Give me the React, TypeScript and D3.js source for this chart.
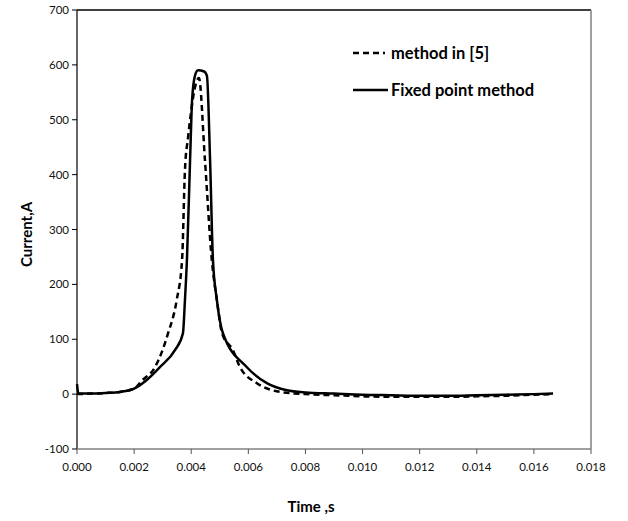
import React, { useEffect, useRef } from 'react';
import * as d3 from 'd3';

// time in s, current in A
const timeRef5 = [0, 0.0005, 0.001, 0.0015, 0.002, 0.00228, 0.00273, 0.00319, 0.00349, 0.00368, 0.00378, 0.00389, 0.00427, 0.00448, 0.00472, 0.0049, 0.00508, 0.00546, 0.00571, 0.0063, 0.00711, 0.008, 0.009, 0.01, 0.011, 0.012, 0.013, 0.014, 0.015, 0.016, 0.01667];
const currentRef5 = [0, 1, 2, 4, 10, 25, 49, 111, 171, 245, 408, 468, 576, 427, 245, 171, 111, 80, 49, 20, 4, 0, -2, -4, -5, -5, -5, -4, -3, -1, 0];

const timeFixed = [0, 0.00005, 0.0005, 0.001, 0.0015, 0.002, 0.0024, 0.0029, 0.00343, 0.00371, 0.00378, 0.00385, 0.00396, 0.00403, 0.00413, 0.00424, 0.00445, 0.00455, 0.00466, 0.00476, 0.0049, 0.00511, 0.00595, 0.00665, 0.00735, 0.008, 0.009, 0.01, 0.011, 0.012, 0.013, 0.014, 0.015, 0.016, 0.01667];
const currentFixed = [18, 1, 1, 2, 4, 10, 24, 49, 80, 111, 171, 245, 427, 535, 580, 590, 588, 580, 427, 245, 171, 111, 49, 20, 7, 3, 1, -1, -2, -3, -3, -2, -1, 0, 1];

const xTicks = [0, 0.002, 0.004, 0.006, 0.008, 0.01, 0.012, 0.014, 0.016, 0.018];
const yTicks = [-100, 0, 100, 200, 300, 400, 500, 600, 700];

const legendLabels = ['method in [5]', 'Fixed point method'];

export default function App() {
  const ref = useRef<SVGSVGElement>(null);
  const width = 628;
  const height = 521;
  const left = 77, right = 591, top = 10, bottom = 449;

  useEffect(() => {
    const svg = d3.select(ref.current);
    svg.selectAll('*').remove();

    const x = d3.scaleLinear().domain([0, 0.018]).range([left, right]);
    const y = d3.scaleLinear().domain([-100, 700]).range([bottom, top]);
    const font = 'Lato, "Open Sans", sans-serif';

    // frame
    svg.append('line').attr('x1', left).attr('x2', right).attr('y1', top).attr('y2', top)
      .attr('stroke', '#000').attr('stroke-width', 1.5);
    svg.append('line').attr('x1', right).attr('x2', right).attr('y1', top).attr('y2', bottom)
      .attr('stroke', '#808080').attr('stroke-width', 1.5);

    // y axis
    svg.append('line').attr('x1', left).attr('x2', left).attr('y1', top).attr('y2', bottom)
      .attr('stroke', '#000').attr('stroke-width', 1.2);
    yTicks.forEach(t => {
      svg.append('line').attr('x1', left - 5).attr('x2', left).attr('y1', y(t)).attr('y2', y(t))
        .attr('stroke', '#000').attr('stroke-width', 1);
      svg.append('text').attr('x', left - 8).attr('y', y(t)).attr('dy', '0.35em')
        .attr('text-anchor', 'end').attr('font-family', font).attr('font-size', 11.5)
        .attr('fill', '#111').text(t);
    });

    // x axis
    svg.append('line').attr('x1', left).attr('x2', right).attr('y1', bottom).attr('y2', bottom)
      .attr('stroke', '#808080').attr('stroke-width', 1.5);
    xTicks.forEach(t => {
      svg.append('line').attr('x1', x(t)).attr('x2', x(t)).attr('y1', bottom).attr('y2', bottom + 5)
        .attr('stroke', '#555').attr('stroke-width', 1);
      svg.append('text').attr('x', x(t)).attr('y', bottom + 22)
        .attr('text-anchor', 'middle').attr('font-family', font).attr('font-size', 11.5)
        .attr('fill', '#111').text(d3.format('.3f')(t));
    });

    svg.append('text').attr('transform', `translate(32,${(top + bottom) / 2 + 5}) rotate(-90)`)
      .attr('text-anchor', 'middle').attr('font-family', font).attr('font-size', 15)
      .attr('font-weight', 'bold').text('Current,A');
    svg.append('text').attr('x', 311).attr('y', 512)
      .attr('text-anchor', 'middle').attr('font-family', font).attr('font-size', 15)
      .attr('font-weight', 'bold').text('Time ,s');

    const line = d3.line<[number, number]>()
      .x(d => x(d[0])).y(d => y(d[1]))
      .curve(d3.curveMonotoneX);

    const ref5: [number, number][] = timeRef5.map((t, i) => [t, currentRef5[i]]);
    const fixed: [number, number][] = timeFixed.map((t, i) => [t, currentFixed[i]]);

    svg.append('path').attr('d', line(ref5)).attr('fill', 'none')
      .attr('stroke', '#000').attr('stroke-width', 2.5).attr('stroke-dasharray', '6,4');
    svg.append('path').attr('d', line(fixed)).attr('fill', 'none')
      .attr('stroke', '#000').attr('stroke-width', 2.5);

    // legend
    const lg = svg.append('g');
    lg.append('line').attr('x1', 353).attr('x2', 385).attr('y1', 53).attr('y2', 53)
      .attr('stroke', '#000').attr('stroke-width', 2.5).attr('stroke-dasharray', '6,4');
    lg.append('line').attr('x1', 353).attr('x2', 388).attr('y1', 90).attr('y2', 90)
      .attr('stroke', '#000').attr('stroke-width', 2.5);
    legendLabels.forEach((s, i) => {
      lg.append('text').attr('x', 391).attr('y', i === 0 ? 53 : 90).attr('dy', '0.35em')
        .attr('font-family', font).attr('font-size', 16.5).attr('font-weight', 'bold').text(s);
    });
  }, []);

  return (
    <svg ref={ref} width={width} height={height}
      style={{ position: 'absolute', left: 0, top: 0, background: '#fff' }} />
  );
}
